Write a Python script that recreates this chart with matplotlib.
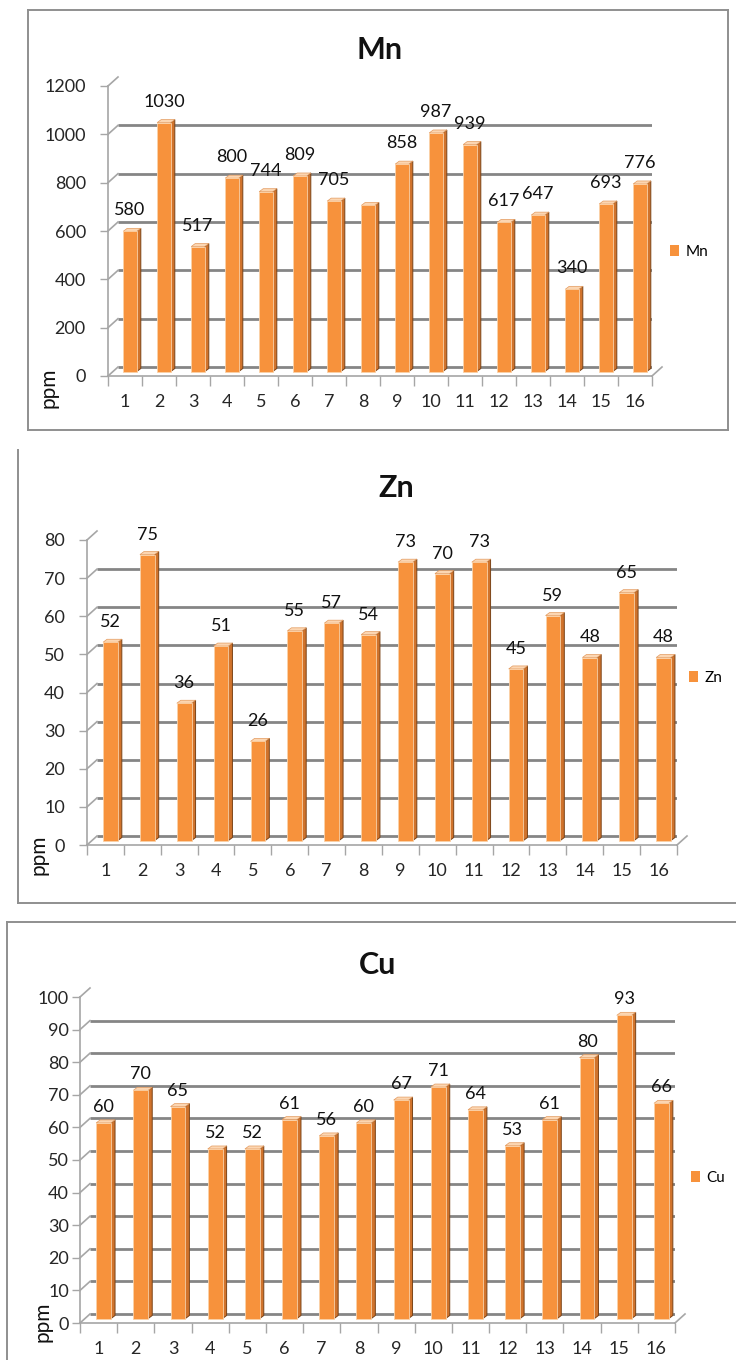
import matplotlib
matplotlib.use('Agg')
import matplotlib.pyplot as plt
import matplotlib.transforms as mtransforms
from matplotlib.patches import Polygon, Patch
from matplotlib.lines import Line2D
import numpy as np

plt.rcParams['font.family'] = ['Lato', 'DejaVu Sans']

W, H = 736, 1360
DPI = 100

samples = list(range(1, 17))
mn_ppm = [580, 1030, 517, 800, 744, 809, 705, 687, 858, 987, 939, 617, 647, 340, 693, 776]
zn_ppm = [52, 75, 36, 51, 26, 55, 57, 54, 73, 70, 73, 45, 59, 48, 65, 48]
cu_ppm = [60, 70, 65, 52, 52, 61, 56, 60, 67, 71, 64, 53, 61, 80, 93, 66]
mn_unlabelled = [8]

ORANGE = '#F7923C'
SIDE = '#d0732c'
SIDE_EDGE = '#7a4317'
TOP = '#fcd6b2'
GRID = '#858585'
AXIS = '#a6a6a6'
TICK_TXT = '#262626'

DEPTH = (10, 9)      # back wall offset in pixels
BAR_DEPTH = (4, 3)   # extrusion of each column

fig = plt.figure(figsize=(W / DPI, H / DPI), dpi=DPI)
fig.patch.set_facecolor('white')


def fx(x):
    return x / W


def fy(y):
    return 1 - y / H


def box(x0, y0, x1, y1, sides='lrtb'):
    kw = dict(color='#8f8f8f', lw=1.4, transform=fig.transFigure, clip_on=False)
    if 'l' in sides:
        fig.add_artist(Line2D([fx(x0), fx(x0)], [fy(y0), fy(y1)], **kw))
    if 'r' in sides:
        fig.add_artist(Line2D([fx(x1), fx(x1)], [fy(y0), fy(y1)], **kw))
    if 't' in sides:
        fig.add_artist(Line2D([fx(x0), fx(x1)], [fy(y0), fy(y0)], **kw))
    if 'b' in sides:
        fig.add_artist(Line2D([fx(x0), fx(x1)], [fy(y1), fy(y1)], **kw))


def panel(ax_px, name, values, ymax, step, title_xy, legend_xy, ppm_xy,
          ytick_pad, lift, hidden=()):
    left, top, right, bottom = ax_px
    ax = fig.add_axes([fx(left), fy(bottom), (right - left) / W, (bottom - top) / H])
    ax.set_xlim(0.5, len(values) + 0.5)
    ax.set_ylim(0, ymax)
    for s in ax.spines.values():
        s.set_visible(False)
    ax.patch.set_alpha(0)

    back = mtransforms.offset_copy(ax.transData, fig=fig, x=DEPTH[0], y=DEPTH[1], units='dots')
    mid = mtransforms.offset_copy(ax.transData, fig=fig, x=DEPTH[0] / 2, y=DEPTH[1] / 2, units='dots')
    ident = mtransforms.IdentityTransform()

    ticks = np.arange(0, ymax + step / 2, step)
    x0, x1 = ax.get_xlim()

    # back wall gridlines and their links to the front axis
    ax.hlines(ticks, x0, x1, colors=GRID, lw=2.0, transform=back, zorder=1)
    for t in ticks:
        a = ax.transData.transform((x0, t))
        b = back.transform((x0, t))
        ax.add_line(Line2D([a[0], b[0]], [a[1], b[1]], color=AXIS, lw=1.2,
                           transform=ident, clip_on=False, zorder=1))
    a = ax.transData.transform((x1, 0))
    b = back.transform((x1, 0))
    ax.add_line(Line2D([a[0], b[0]], [a[1], b[1]], color=AXIS, lw=1.2,
                       transform=ident, clip_on=False, zorder=1))
    ax.plot([x0, x0], [0, ymax], color=AXIS, lw=1.2, clip_on=False, zorder=1)
    ax.plot([x0, x1], [0, 0], color=AXIS, lw=1.2, clip_on=False, zorder=1)

    # columns: side and top faces first, then the front face
    w = 0.4
    dx, dy = BAR_DEPTH
    for x, v in zip(samples, values):
        p0 = mid.transform((x + w / 2, 0))
        p1 = mid.transform((x + w / 2, v))
        q0 = mid.transform((x - w / 2, v))
        side = Polygon([p0, p1, (p1[0] + dx, p1[1] + dy), (p0[0] + dx, p0[1] + dy)],
                       closed=True, facecolor=SIDE, edgecolor=SIDE_EDGE, lw=0.7,
                       transform=ident, clip_on=False, zorder=2)
        cap = Polygon([q0, p1, (p1[0] + dx, p1[1] + dy), (q0[0] + dx, q0[1] + dy)],
                      closed=True, facecolor=TOP, edgecolor='#e39a5e', lw=0.5,
                      transform=ident, clip_on=False, zorder=2)
        ax.add_patch(side)
        ax.add_patch(cap)
    ax.bar(samples, values, width=w, color=ORANGE, edgecolor='#fbd2a8', lw=0.6,
           transform=mid, zorder=3, clip_on=False)

    # value labels above each column
    for x, v in zip(samples, values):
        if x in hidden:
            continue
        ax.annotate(str(v), (x, v), xycoords=mid, xytext=(0, lift), textcoords='offset pixels',
                    ha='center', va='center', fontsize=13, color='#111111', zorder=4)

    ax.set_yticks(ticks)
    ax.set_yticklabels([str(int(t)) for t in ticks])
    ax.tick_params(axis='y', length=6, width=1, color=AXIS, pad=ytick_pad,
                   labelsize=13, labelcolor=TICK_TXT)
    ax.set_xticks(samples)
    ax.set_xticklabels([str(s) for s in samples])
    ax.set_xticks(np.arange(x0, x1 + 0.01, 1.0), minor=True)
    ax.tick_params(axis='x', which='major', length=0, pad=13, labelsize=13,
                   labelcolor=TICK_TXT)
    ax.tick_params(axis='x', which='minor', length=7, width=1, color=AXIS)

    fig.text(fx(title_xy[0]), fy(title_xy[1]), name, ha='center', va='center',
             fontsize=22, fontweight='bold', color='#111111')
    fig.text(fx(ppm_xy[0]), fy(ppm_xy[1]), 'ppm', ha='center', va='center',
             rotation=90, fontsize=15, color='#111111')
    ax.legend(handles=[Patch(facecolor=ORANGE, label=name)], loc='center left',
              bbox_to_anchor=(fx(legend_xy[0]), fy(legend_xy[1])),
              bbox_transform=fig.transFigure, frameon=False, fontsize=11,
              handlelength=0.6, handleheight=0.7, handletextpad=0.4,
              borderpad=0, borderaxespad=0)
    return ax


box(28, 10, 728, 430)
panel((108, 86, 652, 376), 'Mn', mn_ppm, 1200, 200, title_xy=(380, 50),
      legend_xy=(670, 252), ppm_xy=(49, 388), ytick_pad=10, lift=21,
      hidden=mn_unlabelled)

box(18, 450, 760, 903, sides='lb')
panel((87, 540, 677, 845), 'Zn', zn_ppm, 80, 10, title_xy=(396, 488),
      legend_xy=(689, 678), ppm_xy=(39, 855), ytick_pad=10, lift=20)

box(7, 922, 760, 1400, sides='lt')
panel((80, 997, 675, 1323), 'Cu', cu_ppm, 100, 10, title_xy=(378, 965),
      legend_xy=(691, 1178), ppm_xy=(42, 1322), ytick_pad=2, lift=16)

fig.savefig('out.png', dpi=DPI, facecolor='white')
